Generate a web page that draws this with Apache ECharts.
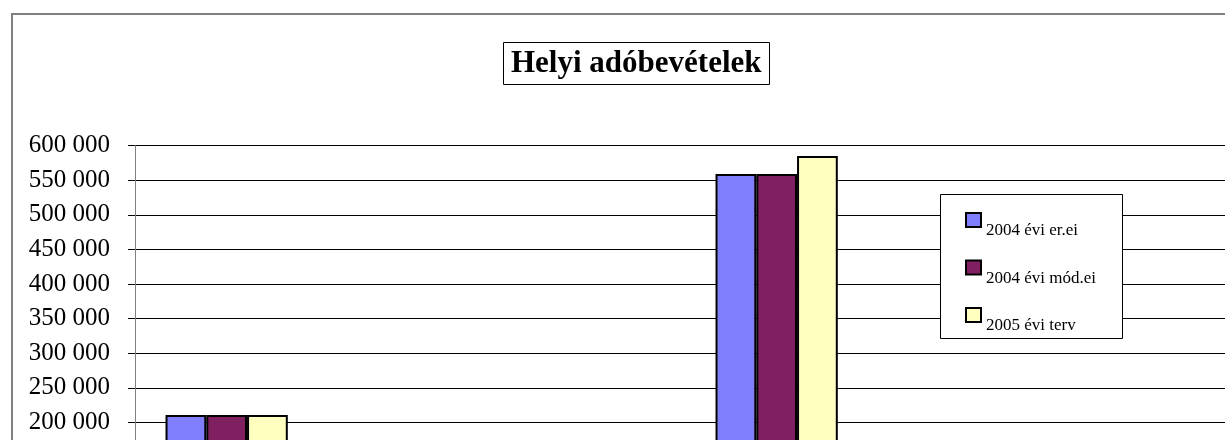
<!DOCTYPE html>
<html>
<head>
<meta charset="utf-8">
<script src="https://cdn.jsdelivr.net/npm/echarts@6/dist/echarts.min.js"></script>
<style>
  html, body { margin: 0; padding: 0; overflow: hidden; background: #fff; }
  #chart { position: absolute; left: 0; top: 0; width: 1300px; height: 640px; }
</style>
</head>
<body>
<div id="chart"></div>
<script>
// categories (lower ones fall below the visible area)
const categories = ['Építményadó', 'Telekadó', 'Kommunális adó', 'Iparűzési adó', 'Idegenforgalmi adó', 'Pótlékok, bírság'];
const seriesNames = ['2004 évi er.ei', '2004 évi mód.ei', '2005 évi terv'];
const er2004 = [210500, 45000, 60000, 559000, 8000, 5000];
const mod2004 = [210500, 45000, 60000, 559000, 8000, 5000];
const terv2005 = [210500, 48000, 62000, 585000, 9000, 5000];
const colors = ['#8080FF', '#802060', '#FFFFC0'];

const serif = '"Liberation Serif", "DejaVu Serif", serif';

const myChart = echarts.init(document.getElementById('chart'));

const makeBar = (name, data, i) => ({
    name: name,
    type: 'bar',
    data: data,
    barGap: 0,
    barCategoryGap: '33.3%',
    itemStyle: { color: colors[i], borderColor: '#000', borderWidth: 2 }
});

const option = {
    animation: false,
    title: {
        text: 'Helyi adóbevételek',
        left: 503,
        top: 42,
        padding: [5, 8, 5, 8],
        borderWidth: 1,
        borderColor: '#000',
        textStyle: { fontFamily: serif, fontSize: 31, fontWeight: 'bold', color: '#000', lineHeight: 33 }
    },
    legend: {
        orient: 'vertical',
        left: 965,
        top: 212,
        padding: 0,
        z: 10,
        itemWidth: 15,
        itemHeight: 14,
        itemGap: 20,
        align: 'left',
        icon: 'rect',
        itemStyle: { borderColor: '#000', borderWidth: 2 },
        formatter: name => '{t|' + name + '}',
        textStyle: {
            fontFamily: serif, fontSize: 17, color: '#000',
            rich: { t: { fontFamily: serif, fontSize: 17, color: '#000', padding: [22, 0, 0, 0] } }
        },
        data: seriesNames
    },
    grid: { left: 135, top: 145.7, width: 1100, height: 415 },
    xAxis: {
        type: 'category',
        data: categories,
        axisLine: { lineStyle: { color: '#808080' } },
        axisTick: { show: false },
        axisLabel: { fontFamily: serif, fontSize: 20, color: '#000' }
    },
    yAxis: {
        type: 'value',
        min: 0,
        max: 600000,
        interval: 50000,
        axisLine: { show: true, lineStyle: { color: '#808080', width: 1 } },
        axisTick: { show: true, length: 7, lineStyle: { color: '#000' } },
        splitLine: { lineStyle: { color: '#000', width: 1 } },
        axisLabel: {
            fontFamily: serif,
            fontSize: 25,
            color: '#000',
            margin: 25,
            formatter: v => String(v).replace(/\B(?=(\d{3})+(?!\d))/g, ' ')
        }
    },
    graphic: [
        {
            type: 'rect',
            z: -10,
            shape: { x: 12, y: 14, width: 1400, height: 800 },
            style: { fill: '#fff', stroke: '#808080', lineWidth: 2 }
        },
        {
            type: 'rect',
            z: 3,
            shape: { x: 940.5, y: 194.5, width: 182, height: 144 },
            style: { fill: '#fff', stroke: '#000', lineWidth: 1 }
        }
    ],
    series: [
        makeBar(seriesNames[0], er2004, 0),
        makeBar(seriesNames[1], mod2004, 1),
        makeBar(seriesNames[2], terv2005, 2)
    ]
};

myChart.setOption(option);
</script>
</body>
</html>
